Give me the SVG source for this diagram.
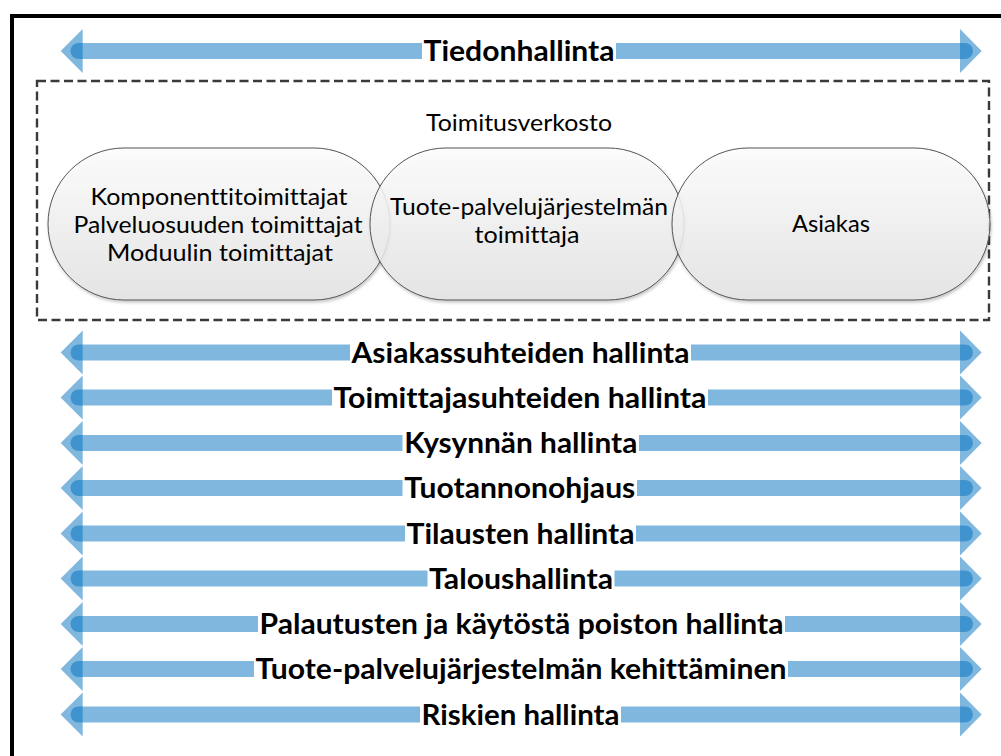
<svg xmlns="http://www.w3.org/2000/svg" xmlns:xlink="http://www.w3.org/1999/xlink" width="1001" height="756" viewBox="0 0 1001 756">
  <style>
    text { font-variant-ligatures: none; font-feature-settings: "liga" 0, "dlig" 0; }
    .frame { fill: none; stroke: #000; stroke-width: 4; }
    .network { fill: none; stroke: #3a3a3a; stroke-width: 2.4; stroke-dasharray: 9 4.5; }
    .node { fill: url(#nodeFill); fill-opacity: 0.85; stroke: #555; stroke-width: 1; filter: url(#shadow); }
    .ntext { font-family: Lato, "Open Sans", sans-serif; font-size: 22.5px; fill: #000; text-anchor: middle; }
    .shaft { stroke: #0070C0; stroke-opacity: 0.5; stroke-width: 16; stroke-linecap: round; fill: none; }
    .head { fill: #0070C0; fill-opacity: 0.5; }
    .gap { fill: #fff; }
    .label { font-family: Lato, "Open Sans", sans-serif; font-weight: bold; font-size: 28px; fill: #000; text-anchor: middle; }
  </style>
  <defs>
    <linearGradient id="nodeFill" x1="0" y1="0" x2="0" y2="1">
      <stop offset="0" stop-color="#ffffff"/>
      <stop offset="1" stop-color="#e4e4e4"/>
    </linearGradient>
    <filter id="shadow" x="-5%" y="-5%" width="110%" height="115%">
      <feDropShadow dx="1" dy="2" stdDeviation="1.5" flood-color="#000" flood-opacity="0.25"/>
    </filter>
    <!-- double-headed process bar, centred on y=0 -->
    <g id="bar">
      <line class="shaft" x1="78.5" y1="0" x2="965" y2="0"/>
      <polygon class="head" points="60.7,0 82.7,-22 82.7,22"/>
      <polygon class="head" points="981.7,0 960,-22 960,22"/>
    </g>
  </defs>

  <rect width="1001" height="756" fill="#fff"/>
  <rect class="frame" x="12" y="16" width="1000" height="760"/>

  <!-- supply network boundary -->
  <g id="network">
    <rect class="network" x="37" y="81" width="952" height="239"/>
    <text class="ntext" x="519" y="131" textLength="186" lengthAdjust="spacingAndGlyphs">Toimitusverkosto</text>
  </g>

  <g id="node-suppliers">
    <rect class="node" x="48" y="148" width="342" height="152" rx="76" ry="76"/>
    <text class="ntext" x="219" y="205" textLength="257" lengthAdjust="spacingAndGlyphs">Komponenttitoimittajat</text>
    <text class="ntext" x="218" y="233" textLength="289" lengthAdjust="spacingAndGlyphs">Palveluosuuden toimittajat</text>
    <text class="ntext" x="220" y="261" textLength="226" lengthAdjust="spacingAndGlyphs">Moduulin toimittajat</text>
  </g>

  <g id="node-provider">
    <rect class="node" x="370" y="148" width="314" height="152" rx="76" ry="76"/>
    <text class="ntext" x="529" y="215" textLength="278" lengthAdjust="spacingAndGlyphs">Tuote-palvelujärjestelmän</text>
    <text class="ntext" x="527" y="243" textLength="105" lengthAdjust="spacingAndGlyphs">toimittaja</text>
  </g>

  <g id="node-customer">
    <rect class="node" x="672" y="148" width="318" height="152" rx="76" ry="76"/>
    <text class="ntext" x="831" y="232" textLength="78" lengthAdjust="spacingAndGlyphs">Asiakas</text>
  </g>

  <!-- management process bars -->
  <g id="connectors">
    <use xlink:href="#bar" href="#bar" y="51"/>
    <rect class="gap" x="422" y="41" width="194" height="20"/>
    <text class="label" x="519" y="61" textLength="191" lengthAdjust="spacingAndGlyphs">Tiedonhallinta</text>

    <use xlink:href="#bar" href="#bar" y="352.5"/>
    <rect class="gap" x="350" y="342.5" width="341" height="20"/>
    <text class="label" x="520.5" y="362.5" textLength="338" lengthAdjust="spacingAndGlyphs">Asiakassuhteiden hallinta</text>

    <use xlink:href="#bar" href="#bar" y="397.5"/>
    <rect class="gap" x="332" y="387.5" width="376" height="20"/>
    <text class="label" x="520" y="407.5" textLength="373" lengthAdjust="spacingAndGlyphs">Toimittajasuhteiden hallinta</text>

    <use xlink:href="#bar" href="#bar" y="443"/>
    <rect class="gap" x="402.5" y="433" width="236.5" height="20"/>
    <text class="label" x="520.8" y="453" textLength="233" lengthAdjust="spacingAndGlyphs">Kysynnän hallinta</text>

    <use xlink:href="#bar" href="#bar" y="488"/>
    <rect class="gap" x="402.5" y="478" width="234.5" height="20"/>
    <text class="label" x="519.8" y="498" textLength="231" lengthAdjust="spacingAndGlyphs">Tuotannonohjaus</text>

    <use xlink:href="#bar" href="#bar" y="533.5"/>
    <rect class="gap" x="405" y="523.5" width="231" height="20"/>
    <text class="label" x="520.5" y="543.5" textLength="228" lengthAdjust="spacingAndGlyphs">Tilausten hallinta</text>

    <use xlink:href="#bar" href="#bar" y="578.5"/>
    <rect class="gap" x="427.5" y="568.5" width="187" height="20"/>
    <text class="label" x="521" y="588.5" textLength="184" lengthAdjust="spacingAndGlyphs">Taloushallinta</text>

    <use xlink:href="#bar" href="#bar" y="624"/>
    <rect class="gap" x="258" y="614" width="527" height="20"/>
    <text class="label" x="521.5" y="634" textLength="524" lengthAdjust="spacingAndGlyphs">Palautusten ja käytöstä poiston hallinta</text>

    <use xlink:href="#bar" href="#bar" y="669"/>
    <rect class="gap" x="254" y="659" width="534" height="20"/>
    <text class="label" x="521" y="679" textLength="531" lengthAdjust="spacingAndGlyphs">Tuote-palvelujärjestelmän kehittäminen</text>

    <use xlink:href="#bar" href="#bar" y="714.5"/>
    <rect class="gap" x="420" y="704.5" width="201" height="20"/>
    <text class="label" x="520.5" y="724.5" textLength="198" lengthAdjust="spacingAndGlyphs">Riskien hallinta</text>
  </g>
</svg>
